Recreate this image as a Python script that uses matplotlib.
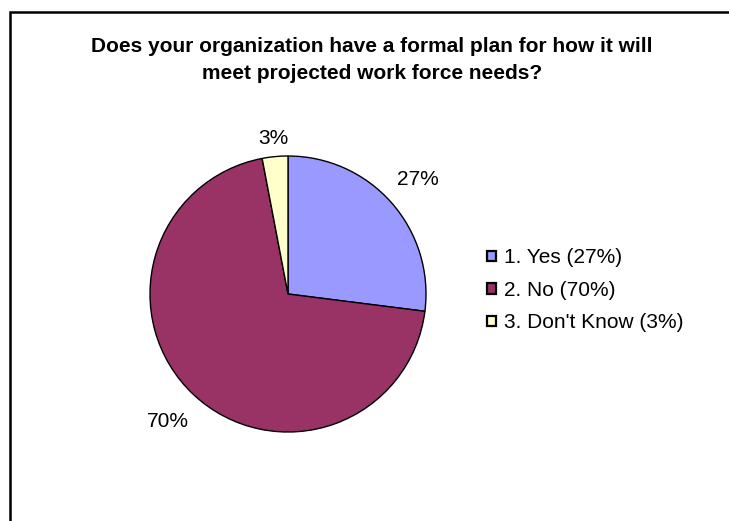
import numpy as np
import matplotlib.pyplot as plt
from matplotlib.patches import Rectangle

plt.rcParams['font.family'] = ['Liberation Sans', 'DejaVu Sans']

title = 'Does your organization have a formal plan for how it will\nmeet projected work force needs?'
answers = ['1. Yes', '2. No', "3. Don't Know"]
shares = [27, 70, 3]
colors = ['#9999FF', '#993366', '#FFFFCC']
label_dist = [1.25, 1.27, 1.13]  # radial offset of each percent label

W, H = 729, 521
fig = plt.figure(figsize=(W / 100, H / 100), dpi=100)

# pixel-based axes so the pie sits where we want it
ax = fig.add_axes([0, 0, 1, 1])

# chart border (left and top edges show)
fig.patches.append(Rectangle((10 / W, -0.05), 1.0, (H - 12) / H + 0.05,
                             transform=fig.transFigure, fill=False,
                             edgecolor='black', linewidth=1.8))

cx, cy, r = 288, H - 294, 138
wedges, texts = ax.pie(shares, colors=colors, startangle=90, counterclock=False,
                       center=(cx, cy), radius=r, frame=True,
                       labels=[f'{v}%' for v in shares],
                       wedgeprops=dict(edgecolor='black', linewidth=1.0),
                       textprops=dict(fontsize=15))
for w, t, d in zip(wedges, texts, label_dist):
    ang = np.deg2rad((w.theta1 + w.theta2) / 2)
    t.set_position((cx + d * r * np.cos(ang), cy + d * r * np.sin(ang)))
    t.set_ha('center')
    t.set_va('center')
ax.set_xlim(0, W)
ax.set_ylim(0, H)
ax.set_aspect('equal')
ax.axis('off')

fig.text(372 / W, 1 - 60 / H, title, ha='center', va='center', fontsize=15,
         fontweight='bold', linespacing=1.55)

leg = ax.legend(wedges, [f'{a} ({v}%)' for a, v in zip(answers, shares)],
                loc='upper left', bbox_to_anchor=(479 / W, 1 - 240 / H),
                bbox_transform=fig.transFigure, frameon=False, fontsize=15,
                handlelength=0.4, handleheight=0.4, handletextpad=0.4,
                labelspacing=0.65, borderaxespad=0)
for h in leg.legend_handles:
    h.set_linewidth(1.6)

fig.savefig('out.png', dpi=100)
